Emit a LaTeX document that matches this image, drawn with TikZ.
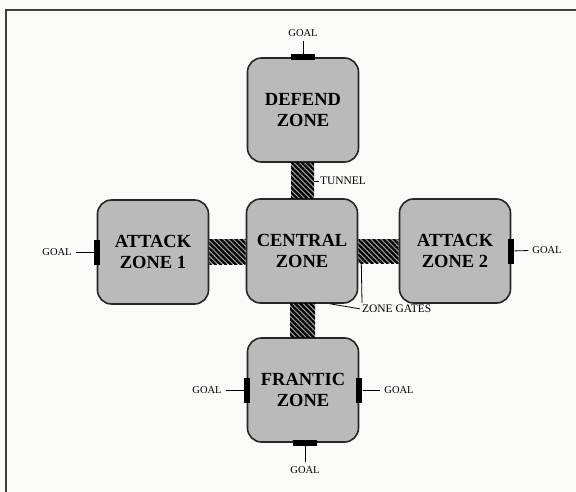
\documentclass[tikz,border=0pt]{standalone}
\usepackage{fontspec}
\setmainfont{Liberation Serif}
\usetikzlibrary{patterns.meta}
\definecolor{zonegray}{RGB}{186,186,186}
\definecolor{paper}{RGB}{250,250,248}
\tikzset{
  zone/.style={draw=black!85, line width=1.6pt, fill=zonegray, rounded corners=14pt,
    minimum width=111pt, minimum height=104pt, align=center,
    font=\fontsize{18.5}{21}\selectfont\bfseries},
  tunnel/.style={preaction={fill=black!40},
    pattern={Lines[angle=-45,distance=3.6pt,line width=2.2pt]}, pattern color=black},
  goalbar/.style={fill=black, inner sep=0pt},
  tag/.style={font=\fontsize{10.5}{12}\selectfont, inner sep=2pt, outer sep=2pt},
  bigtag/.style={tag, font=\fontsize{11.5}{13}\selectfont},
  lead/.style={line width=0.8pt},
  frame/.style={line width=2pt, black!75}
}
\begin{document}
\begin{tikzpicture}[x=1pt,y=-1pt]
  \useasboundingbox[fill=paper] (0,0) rectangle (576,492);
  \draw[frame] (6,500) -- (6,10) -- (580,10);
  % zones
  \node[zone] (defend) at (303,110) {DEFEND\\ZONE};
  \node[zone] (central) at (302,251) {CENTRAL\\ZONE};
  \node[zone] (attack1) at (153,252) {ATTACK\\ZONE 1};
  \node[zone] (attack2) at (455,251) {ATTACK\\ZONE 2};
  \node[zone] (frantic) at (303,390) {FRANTIC\\ZONE};
  % tunnels
  \path[tunnel] ([xshift=-12pt]defend.south) rectangle ([xshift=12pt]central.north);
  \path[tunnel] ([yshift=-12pt]attack1.east) rectangle ([yshift=12pt]central.west);
  \path[tunnel] ([yshift=-12pt]central.east) rectangle ([yshift=12pt]attack2.west);
  \path[tunnel] ([xshift=-12pt]central.south) rectangle ([xshift=12pt]frantic.north);
  % goals
  \node[goalbar, minimum width=24pt, minimum height=6pt] (gdefend) at (defend.north) {};
  \node[tag] (tdefend) at (303,33) {GOAL};
  \draw[lead] (gdefend) -- (tdefend);
  \node[goalbar, minimum width=6pt, minimum height=25pt] (gattack1) at (attack1.west) {};
  \node[tag] (tattack1) at (57,252) {GOAL};
  \draw[lead] (gattack1) -- (tattack1);
  \node[goalbar, minimum width=6pt, minimum height=25pt] (gattack2) at (attack2.east) {};
  \node[tag] (tattack2) at (547,250) {GOAL};
  \draw[lead] (gattack2) -- (tattack2);
  \node[goalbar, minimum width=6pt, minimum height=25pt] (gfranticw) at (frantic.west) {};
  \node[tag] (tfranticw) at (207,390) {GOAL};
  \draw[lead] (gfranticw) -- (tfranticw);
  \node[goalbar, minimum width=6pt, minimum height=25pt] (gfrantice) at (frantic.east) {};
  \node[tag] (tfrantice) at (399,390) {GOAL};
  \draw[lead] (gfrantice) -- (tfrantice);
  \node[goalbar, minimum width=24pt, minimum height=6pt] (gfrantics) at ([xshift=2pt]frantic.south) {};
  \node[tag] (tfrantics) at (305,470) {GOAL};
  \draw[lead] (gfrantics) -- (tfrantics);
  % labels
  \node[bigtag, anchor=west, inner sep=1pt, outer sep=0pt] (ttunnel) at (319,181) {TUNNEL};
  \draw[lead] (ttunnel.west) -- ++(-5,0);
  \node[bigtag, anchor=north west, outer sep=0pt] (tgates) at (360,303) {ZONE GATES};
  \draw[lead] (tgates.west) -- ([xshift=28pt]central.south);
  \draw[lead] ([xshift=2pt]tgates.north west) -- ([xshift=3pt,yshift=-12pt]central.east);
\end{tikzpicture}
\end{document}
